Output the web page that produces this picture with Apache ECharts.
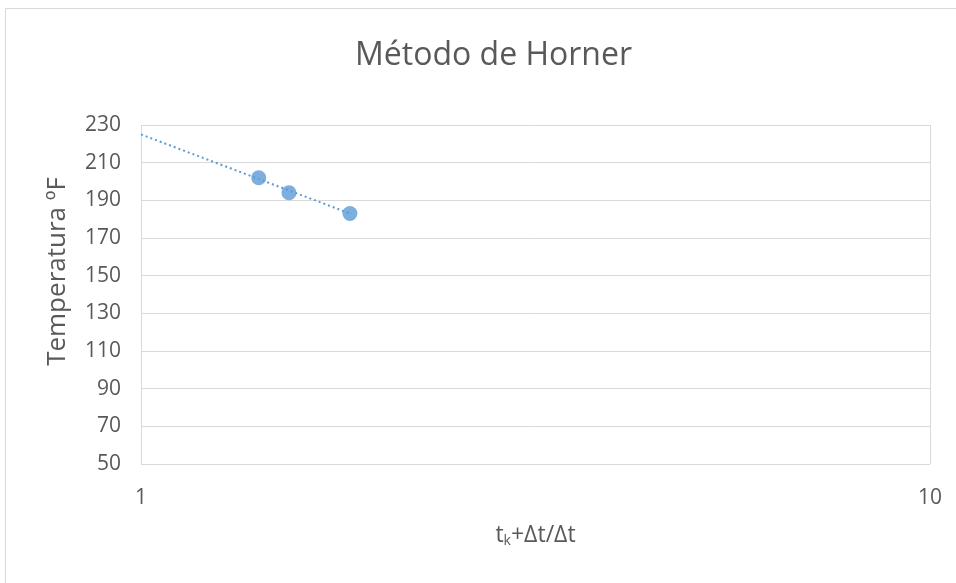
<!DOCTYPE html>
<html>
<head>
<meta charset="utf-8">
<script src="https://cdn.jsdelivr.net/npm/echarts@6/dist/echarts.min.js"></script>
<style>
  html, body { margin: 0; padding: 0; background: #fff; }
  #chart { width: 956px; height: 583px; }
</style>
</head>
<body>
<div id="chart"></div>
<script>
// measured points (t_k+Δt/Δt, temperature)
const xValues = [1.41, 1.54, 1.84];
const tempValues = [202, 194, 183];
// dotted trend line, endpoints
const trendX = [1, 1.84];
const trendY = [225, 183];

const pts = xValues.map((x, i) => [x, tempValues[i]]);
const trend = trendX.map((x, i) => [x, trendY[i]]);

const textColor = '#595959';
const gridColor = '#d9d9d9';
const blue = '#5b9bd5';
const font = '"Open Sans", "Noto Sans", sans-serif';

const chart = echarts.init(document.getElementById('chart'));

chart.setOption({
  animation: false,
  title: {
    text: 'Método de Horner',
    left: 350,
    top: 35,
    textStyle: { color: textColor, fontSize: 32, fontWeight: 'normal', fontFamily: font }
  },
  graphic: [{
    type: 'rect',
    shape: { x: 5.5, y: 8.5, width: 1000, height: 1000 },
    style: { fill: 'none', stroke: gridColor, lineWidth: 1 },
    silent: true
  }],
  grid: { left: 141, right: 26, top: 125, bottom: 119 },
  xAxis: {
    type: 'log',
    logBase: 10,
    min: 1,
    max: 10,
    name: '{a|t}{b|k}{a|+Δt/Δt}',
    nameLocation: 'middle',
    nameGap: 58,
    nameTextStyle: {
      rich: {
        a: { color: textColor, fontSize: 23, fontFamily: font },
        b: { color: textColor, fontSize: 14, fontFamily: font, padding: [12, 0, 0, 0] }
      }
    },
    axisLine: { show: false },
    axisTick: { show: false },
    axisLabel: { color: textColor, fontSize: 21, fontFamily: font, margin: 24 },
    splitLine: { show: true, lineStyle: { color: gridColor, width: 1 } }
  },
  yAxis: {
    type: 'value',
    min: 50,
    max: 230,
    interval: 20,
    name: 'Temperatura ºF',
    nameLocation: 'middle',
    nameGap: 70,
    nameTextStyle: { color: textColor, fontSize: 26, fontFamily: font, padding: [0, 0, 0, 46] },
    axisLine: { show: false },
    axisTick: { show: false },
    axisLabel: { color: textColor, fontSize: 21, fontFamily: font, margin: 20 },
    splitLine: { show: true, lineStyle: { color: gridColor, width: 1 } }
  },
  series: [
    {
      name: 'Tendencia',
      type: 'line',
      data: trend,
      symbol: 'none',
      lineStyle: { color: blue, width: 2, type: [2, 3] },
      z: 2
    },
    {
      name: 'Temperatura',
      type: 'scatter',
      data: pts,
      symbol: 'circle',
      symbolSize: 15,
      itemStyle: { color: blue },
      z: 3
    }
  ]
});
</script>
</body>
</html>
